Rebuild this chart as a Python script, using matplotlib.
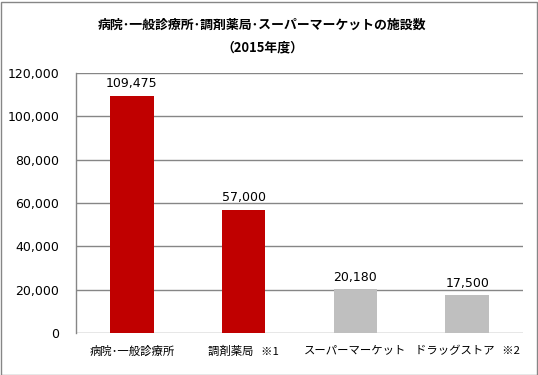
import matplotlib
matplotlib.use("Agg")
import matplotlib.pyplot as plt
from matplotlib.patches import Rectangle
from matplotlib.ticker import FuncFormatter

plt.rcParams['font.family'] = ['DejaVu Sans', 'Noto Sans CJK JP']

categories = ["病院･一般診療所", "調剤薬局   ※1", "スーパーマーケット", "ドラッグストア   ※2"]
values = [109475, 57000, 20180, 17500]
colors = ["#C00000", "#C00000", "#BFBFBF", "#BFBFBF"]
yticks = [0, 20000, 40000, 60000, 80000, 100000, 120000]
title = "病院･一般診療所･調剤薬局･スーパーマーケットの施設数\n（2015年度）"

W, H = 538, 375
fig = plt.figure(figsize=(W / 100, H / 100), dpi=100)
ax = fig.add_axes([76 / W, 1 - 333 / H, (523 - 76) / W, (333 - 73) / H])

x = list(range(len(categories)))
bars = ax.bar(x, values, width=0.39, color=colors, zorder=3)
ax.set_xlim(-0.5, len(categories) - 0.5)
ax.set_ylim(0, 120000)
ax.set_yticks(yticks)
ax.yaxis.set_major_formatter(FuncFormatter(lambda v, p: f"{int(v):,}"))
ax.grid(axis='y', color='#868686', linewidth=1, zorder=0)
ax.set_axisbelow(True)

for s in ['top', 'right', 'bottom']:
    ax.spines[s].set_visible(False)
ax.spines['left'].set_color('#868686')
ax.spines['left'].set_linewidth(1)
ax.tick_params(axis='y', length=0, pad=12, labelsize=9, colors='black')
ax.tick_params(axis='x', length=0, pad=9)
ax.set_xticks(x)
ax.set_xticklabels(categories, fontsize=8.2, family=['Noto Sans CJK JP', 'DejaVu Sans'])

for b, v in zip(bars, values):
    ax.annotate(f"{v:,}", (b.get_x() + b.get_width() / 2, v), xytext=(0, 4),
                textcoords='offset points', ha='center', va='bottom', fontsize=9)

fig.text(262 / W, 1 - 36 / H, title, ha='center', va='center', fontsize=9.3,
         fontweight='bold', family=['Noto Sans CJK JP', 'DejaVu Sans'], linespacing=1.8)

fig.patches.append(Rectangle((0.5 / W, 0.5 / H), (W - 2) / W, (H - 2) / H,
                             transform=fig.transFigure, fill=False,
                             edgecolor='#868686', linewidth=1))

fig.savefig("out.png", dpi=100)
